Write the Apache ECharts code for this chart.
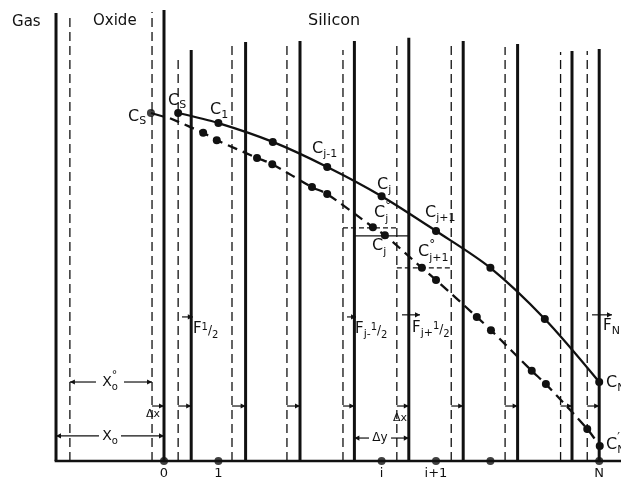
<!DOCTYPE html>
<html>
<head>
<meta charset="utf-8">
<script src="https://cdn.jsdelivr.net/npm/echarts@6/dist/echarts.min.js"></script>
<style>
  html, body { margin: 0; padding: 0; background: #fff; }
  #chart { width: 621px; height: 479px; }
</style>
</head>
<body>
<div id="chart"></div>
<script>
// Mesh coordinates: x is the node index (node 0 = oxide/silicon interface),
// y is the concentration normalised to the surface value Cs.

// node labels along the depth axis
const nodeLabels = [[0, '0'], [1, '1'], [4, 'i'], [5, 'i+1'], [8, 'N']];
const nodeDots = [0, 1, 4, 5, 6, 8];

// cell boundaries of the new mesh (solid) and their upper ends
const boundaryX   = [-1.985, 0, 0.5, 1.5, 2.5, 3.5, 4.5, 5.5, 6.5, 7.5, 8];
const boundaryTop = [1.287, 1.296, 1.181, 1.204, 1.207, 1.207, 1.216, 1.207, 1.198, 1.178, 1.184];

// cell boundaries of the old mesh (dashed), shifted by the oxide growth
const oldBoundaryX   = [-1.73, -0.22, 0.26, 1.25, 2.26, 3.29, 4.28, 5.28, 6.27, 7.29, 7.78];
const oldBoundaryTop = [1.287, 1.290, 1.161, 1.204, 1.204, 1.181, 1.195, 1.207, 1.190, 1.175, 1.178];

// concentration profile C_j on the new mesh
const profileX = [0.26, 1, 2, 3, 4, 5, 6, 7, 8];
const profileC = [1.0, 0.971, 0.917, 0.845, 0.761, 0.661, 0.555, 0.408, 0.227];

// profile carried over from the old mesh (C°_j) and re-gridded (C'_j)
const oldProfileX = [0.11, 0.72, 0.97, 1.71, 1.99, 2.72, 3.0, 3.84, 4.06, 4.74, 5.0, 5.75, 6.01, 6.76, 7.02, 7.78, 8.01];
const oldProfileC = [0.985, 0.943, 0.922, 0.871, 0.853, 0.787, 0.767, 0.672, 0.649, 0.555, 0.520, 0.414, 0.376, 0.259, 0.221, 0.092, 0.043];

// oxide-side surface concentration
const oxideX = [-0.24, 0];
const oxideC = [1.0, 0.989];

const INK = '#111';
const FONT = '"DejaVu Sans", "Liberation Sans", sans-serif';
const measureCtx = document.createElement('canvas').getContext('2d');
function textWidth(t, size) {
  measureCtx.font = size + 'px ' + FONT;
  return measureCtx.measureText(t).width;
}

// text labels: anchor [x, c], pieces [text, fontSize, dy, advance]
const annotations = [
  { at: [-2.794, 1.2615], parts: [['Gas', 15, 0]] },
  { at: [-1.305, 1.264], parts: [['Oxide', 15, 0]] },
  { at: [2.647, 1.264], parts: [['Silicon', 16, 0]] },
  { at: [-0.662, 0.989], parts: [['C', 16, 0], ['S', 11, 4]] },
  { at: [0.074, 1.034], parts: [['C', 16, 0], ['S', 11, 4]] },
  { at: [0.846, 1.009], parts: [['C', 16, 0], ['1', 11, 5]] },
  { at: [2.721, 0.897], parts: [['C', 16, 0], ['j-1', 11, 5]] },
  { at: [3.915, 0.793], parts: [['C', 16, 0], ['j', 11, 5]] },
  { at: [3.860, 0.713], parts: [['C', 16, 0], ['°', 12, -7, false], ['j', 11, 6]] },
  { at: [3.824, 0.618], parts: [['C', 16, 0], ['′', 12, -7, false], ['j', 11, 6]] },
  { at: [4.798, 0.713], parts: [['C', 16, 0], ['j+1', 11, 5]] },
  { at: [4.669, 0.601], parts: [['C', 16, 0], ['°', 12, -7, false], ['j+1', 11, 6]] },
  { at: [8.125, 0.224], parts: [['C', 16, 0], ['N', 11, 5]] },
  { at: [8.125, 0.046], parts: [['C', 16, 0], ['′', 12, -7, false], ['N', 11, 5]] },
  { at: [0.533, 0.379], parts: [['F', 15, 0], ['1', 10, -2], ['/', 12, 2], ['2', 10, 6]] },
  { at: [3.511, 0.379], parts: [['F', 15, 0], ['j-', 11, 5], ['1', 10, -2], ['/', 12, 2], ['2', 10, 6]] },
  { at: [4.559, 0.382], parts: [['F', 15, 0], ['j+', 11, 5], ['1', 10, -2], ['/', 12, 2], ['2', 10, 6]] },
  { at: [8.070, 0.388], parts: [['F', 15, 0], ['N', 11, 5]] },
  { at: [-0.202, 0.135], center: true, parts: [['Δx', 11, 0]] },
  { at: [4.338, 0.124], center: true, parts: [['Δx', 11, 0]] },
  { at: [-0.993, 0.227], center: true, parts: [['X', 14, 0], ['°', 11, -7, false], ['o', 10, 5]] },
  { at: [-0.993, 0.072], center: true, parts: [['X', 14, 0], ['o', 10, 5]] }
];
nodeLabels.forEach(function (n) {
  annotations.push({ at: [n[0], -0.036], center: true, parts: [[n[1], 13, 0]] });
});
annotations.push({ at: [3.971, 0.066], center: true, parts: [['Δy', 12, 0]] });

// flux arrows crossing a cell boundary
const fluxArrows = [
  { from: 0.331, to: 0.53, c: 0.414 },
  { from: 3.364, to: 3.53, c: 0.414 },
  { from: 4.375, to: 4.706, c: 0.420 },
  { from: 7.868, to: 8.235, c: 0.420 }
];
// boundary displacement arrows (old -> new boundary)
const shiftLevel = 0.158;
// dimension lines with a gap for their label
const dimensions = [
  { from: -1.73, to: -0.22, c: 0.227, mid: -0.993, gap: 14 },
  { from: -1.985, to: 0, c: 0.072, mid: -0.993, gap: 11 },
  { from: 3.5, to: 4.5, c: 0.066, mid: 3.971, gap: 11 }
];
// cell averages drawn as short horizontal strokes
const cellLevels = [
  { from: 3.29, to: 4.28, c: 0.670, dashed: true },
  { from: 3.5, to: 4.5, c: 0.647, dashed: false },
  { from: 4.28, to: 5.26, c: 0.555, dashed: true }
];

function head(p, dir) {
  const len = 5, half = 2.6;
  return {
    type: 'polygon',
    shape: { points: [[p[0], p[1]], [p[0] - dir * len, p[1] - half], [p[0] - dir * len, p[1] + half]] },
    style: { fill: INK }
  };
}
function seg(a, b, w, dash) {
  return {
    type: 'line',
    shape: { x1: a[0], y1: a[1], x2: b[0], y2: b[1] },
    style: { stroke: INK, lineWidth: w, lineDash: dash || null }
  };
}

function verticals(xs, tops, width, dash) {
  return {
    type: 'custom',
    clip: false,
    silent: true,
    data: xs.map(function (x, i) { return [x, tops[i]]; }),
    renderItem: function (params, api) {
      const a = api.coord([api.value(0), 0]);
      const b = api.coord([api.value(0), api.value(1)]);
      return seg(a, b, width, dash);
    },
    z: 1
  };
}

const option = {
  animation: false,
  backgroundColor: '#fff',
  grid: { left: 0, right: 0, top: 0, bottom: 0 },
  xAxis: { type: 'value', min: -3.0147, max: 8.4007, show: false },
  yAxis: { type: 'value', min: -0.0517, max: 1.3247, show: false },
  series: [
    verticals(boundaryX, boundaryTop, 3, null),
    verticals(oldBoundaryX, oldBoundaryTop, 1.3, [9, 5]),
    {
      type: 'line',
      data: [[-2.01, 0], [8.4007, 0]],
      symbol: 'none',
      lineStyle: { color: INK, width: 2.6 },
      z: 2
    },
    {
      type: 'scatter',
      data: nodeDots.map(function (k) { return [k, 0]; }),
      symbol: 'circle',
      symbolSize: 8,
      itemStyle: { color: INK },
      z: 5
    },
    {
      type: 'line',
      data: oxideX.map(function (x, i) { return [x, oxideC[i]]; }),
      symbol: 'none',
      lineStyle: { color: INK, width: 2 },
      z: 4
    },
    {
      type: 'scatter',
      data: [[oxideX[0], oxideC[0]]],
      symbolSize: 8,
      itemStyle: { color: INK },
      z: 5
    },
    {
      type: 'line',
      data: profileX.map(function (x, i) { return [x, profileC[i]]; }),
      smooth: 0.3,
      symbol: 'circle',
      symbolSize: 8,
      showAllSymbol: true,
      lineStyle: { color: INK, width: 2.3 },
      itemStyle: { color: INK },
      z: 4
    },
    {
      type: 'line',
      data: oldProfileX.map(function (x, i) {
        return i === 0 ? { value: [x, oldProfileC[i]], symbol: 'none' } : [x, oldProfileC[i]];
      }),
      smooth: 0.3,
      symbol: 'circle',
      symbolSize: 8,
      showAllSymbol: true,
      lineStyle: { color: INK, width: 2.3, type: [10, 6] },
      itemStyle: { color: INK },
      z: 4
    },
    {
      // horizontal cell-average strokes
      type: 'custom',
      clip: false,
      silent: true,
      data: cellLevels.map(function (d) { return [d.from, d.to, d.c]; }),
      renderItem: function (params, api) {
        const d = cellLevels[params.dataIndex];
        const a = api.coord([api.value(0), api.value(2)]);
        const b = api.coord([api.value(1), api.value(2)]);
        return seg(a, b, 1.1, d.dashed ? [5, 3] : null);
      },
      z: 3
    },
    {
      // flux arrows and boundary shifts
      type: 'custom',
      clip: false,
      silent: true,
      data: fluxArrows.map(function (d) { return [d.from, d.to, d.c]; })
        .concat(oldBoundaryX.slice(1).map(function (x, i) { return [x, boundaryX[i + 1], shiftLevel]; })),
      renderItem: function (params, api) {
        const a = api.coord([api.value(0), api.value(2)]);
        const b = api.coord([api.value(1), api.value(2)]);
        return { type: 'group', children: [seg(a, b, 1.2), head(b, 1)] };
      },
      z: 3
    },
    {
      // dimension lines
      type: 'custom',
      clip: false,
      silent: true,
      data: dimensions.map(function (d) { return [d.from, d.to, d.c, d.mid]; }),
      renderItem: function (params, api) {
        const d = dimensions[params.dataIndex];
        const a = api.coord([api.value(0), api.value(2)]);
        const b = api.coord([api.value(1), api.value(2)]);
        const m = api.coord([api.value(3), api.value(2)]);
        return {
          type: 'group',
          children: [
            seg(a, [m[0] - d.gap, m[1]], 1.2),
            seg([m[0] + d.gap, m[1]], b, 1.2),
            head(a, -1),
            head(b, 1)
          ]
        };
      },
      z: 3
    },
    {
      // text
      type: 'custom',
      clip: false,
      silent: true,
      data: annotations.map(function (a) { return a.at; }),
      renderItem: function (params, api) {
        const ann = annotations[params.dataIndex];
        const p = api.coord([api.value(0), api.value(1)]);
        let total = 0;
        ann.parts.forEach(function (pt) { if (pt[3] !== false) total += textWidth(pt[0], pt[1]); });
        let x = ann.center ? p[0] - total / 2 : p[0];
        const children = [];
        ann.parts.forEach(function (pt) {
          children.push({
            type: 'text',
            x: x,
            y: p[1] + pt[2],
            style: {
              text: pt[0],
              font: pt[1] + 'px ' + FONT,
              fill: INK,
              align: 'left',
              verticalAlign: 'middle',
              textAlign: 'left',
              textVerticalAlign: 'middle'
            }
          });
          if (pt[3] !== false) x += textWidth(pt[0], pt[1]);
        });
        return { type: 'group', children: children };
      },
      z: 6
    }
  ]
};

const chart = echarts.init(document.getElementById('chart'));
chart.setOption(option);
</script>
</body>
</html>
